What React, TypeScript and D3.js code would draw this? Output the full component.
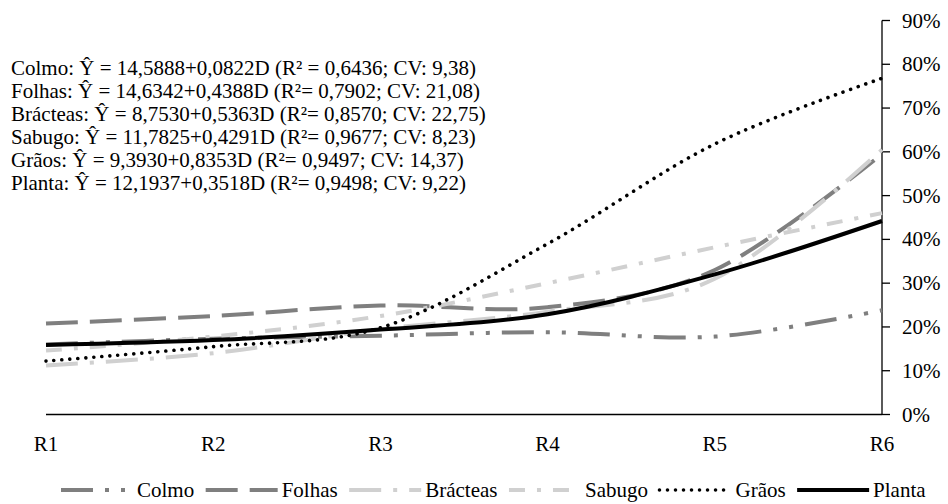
import React from "react";
import * as d3 from "d3";

const categories = ["R1", "R2", "R3", "R4", "R5", "R6"];
const colmo = [16.0, 17.3, 18.0, 18.8, 17.8, 23.8];
const folhas = [20.8, 22.5, 24.9, 24.5, 33.0, 59.5];
const bracteas = [11.2, 14.0, 19.5, 23.5, 31.0, 60.5];
const sabugo = [14.6, 17.8, 22.5, 30.0, 38.2, 46.0];
const graos = [12.2, 15.5, 19.8, 39.0, 61.8, 76.8];
const planta = [15.9, 17.0, 19.4, 22.9, 32.0, 44.2];
const yTicks = [0, 10, 20, 30, 40, 50, 60, 70, 80, 90];
const equations = [
  "Colmo: Ŷ = 14,5888+0,0822D (R² = 0,6436; CV: 9,38)",
  "Folhas: Ŷ = 14,6342+0,4388D (R²= 0,7902; CV: 21,08)",
  "Brácteas: Ŷ = 8,7530+0,5363D (R²= 0,8570; CV: 22,75)",
  "Sabugo: Ŷ = 11,7825+0,4291D (R²= 0,9677; CV: 8,23)",
  "Grãos: Ŷ = 9,3930+0,8353D (R²= 0,9497; CV: 14,37)",
  "Planta: Ŷ = 12,1937+0,3518D (R²= 0,9498; CV: 9,22)",
];

const DARK = "#7f7f7f";
const LIGHT = "#d0d0d0";
const FONT = "'Liberation Serif', 'Times New Roman', serif";
const FS = 21;

const series = [
  { name: "Colmo", values: colmo, color: DARK, dash: "32 12 4 12 4 12", width: 4, cap: "butt" },
  { name: "Folhas", values: folhas, color: DARK, dash: "32 12", width: 4, cap: "butt" },
  { name: "Brácteas", values: bracteas, color: LIGHT, dash: "32 12 4 12", width: 4, cap: "butt" },
  { name: "Sabugo", values: sabugo, color: LIGHT, dash: "16 12 4 12", width: 4, cap: "butt" },
  { name: "Grãos", values: graos, color: "#000", dash: "0.01 8", width: 3.6, cap: "round" },
  { name: "Planta", values: planta, color: "#000", dash: "none", width: 4, cap: "butt" },
];

function measure(text: string): number {
  const c = document.createElement("canvas").getContext("2d");
  if (!c) return text.length * FS * 0.45;
  c.font = `${FS}px ${FONT}`;
  return c.measureText(text).width;
}

const textStyle: React.CSSProperties = { fontFamily: FONT, fontSize: FS };

export default function App() {
  const W = 948;
  const H = 504;
  const x = d3.scalePoint<string>().domain(categories).range([46, 882]);
  const y = d3.scaleLinear().domain([0, 90]).range([414.5, 20.5]);
  const line = d3
    .line<number>()
    .x((_, i) => x(categories[i]) as number)
    .y((d) => y(d))
    .curve(d3.curveCardinal.tension(0));

  const legendItems: { s: any; x0: number; tx: number }[] = [];
  let lx = 61;
  series.forEach((s) => {
    legendItems.push({ s, x0: lx, tx: lx + 76 });
    lx = lx + 76 + measure(s.name) + 11.5;
  });
  const ly = 490;

  return (
    <svg
      width={W}
      height={H}
      style={{ position: "absolute", left: 0, top: 0, background: "#fff" }}
    >
      <rect width={W} height={H} fill="#fff" />
      {equations.map((t, i) => (
        <text key={t} x={11} y={75 + i * 23} fill="#000" style={textStyle}>
          {t}
        </text>
      ))}
      <line x1={46} x2={882} y1={y(0)} y2={y(0)} stroke="#000" strokeWidth={1.3} />
      {categories.map((c) => (
        <text key={c} x={x(c)} y={451} textAnchor="middle" fill="#000" style={textStyle}>
          {c}
        </text>
      ))}
      <line x1={882} x2={882} y1={y(90)} y2={y(0)} stroke="#000" strokeWidth={1.3} />
      {yTicks.map((t) => (
        <g key={t}>
          <line x1={882} x2={890} y1={y(t)} y2={y(t)} stroke="#000" strokeWidth={1.3} />
          <text x={902} y={y(t) + 7} fill="#000" style={textStyle}>
            {t}%
          </text>
        </g>
      ))}
      {series.map((s) => (
        <path
          key={s.name}
          d={line(s.values) || ""}
          fill="none"
          stroke={s.color}
          strokeWidth={s.width}
          strokeDasharray={s.dash}
          strokeLinecap={s.cap as any}
        />
      ))}
      {legendItems.map(({ s, x0, tx }) => (
        <g key={s.name}>
          <line
            x1={x0}
            x2={x0 + 72}
            y1={ly}
            y2={ly}
            stroke={s.color}
            strokeWidth={s.width}
            strokeDasharray={s.dash}
            strokeLinecap={s.cap as any}
          />
          <text x={tx} y={ly + 7} fill="#000" style={textStyle}>
            {s.name}
          </text>
        </g>
      ))}
    </svg>
  );
}
